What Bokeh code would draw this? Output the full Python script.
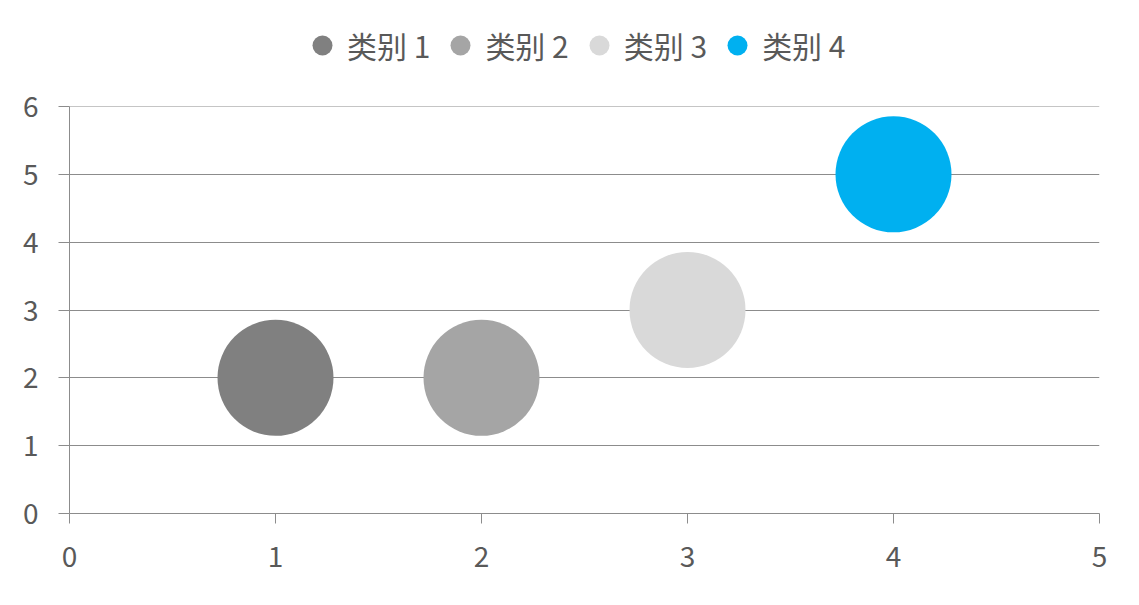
from bokeh.plotting import figure
from bokeh.layouts import column
from bokeh.models import Range1d, FixedTicker, Legend, LegendItem, ColumnDataSource, Span
from bokeh.embed import file_html
from bokeh.resources import INLINE

categories = ["类别 1", "类别 2", "类别 3", "类别 4"]
x_values = [1, 2, 3, 4]
y_values = [2, 2, 3, 5]
bubble_sizes = [10, 10, 10, 10]
colors = ["#808080", "#A5A5A5", "#D9D9D9", "#00B0F0"]
x_ticks = [0, 1, 2, 3, 4, 5]
y_ticks = [0, 1, 2, 3, 4, 5, 6]

FONT = "Noto Sans CJK SC"
TXT = "#595959"
LINE = "#8C8C8C"

# main chart
p = figure(width=1131, height=525, output_backend="svg", toolbar_location=None,
           x_range=Range1d(0, 5), y_range=Range1d(0, 6),
           min_border_left=69, min_border_right=32, min_border_top=30, min_border_bottom=88)
p.outline_line_color = None
p.background_fill_color = "white"
p.border_fill_color = "white"

for i, c in enumerate(categories):
    src = ColumnDataSource(dict(x=[x_values[i]], y=[y_values[i]], r=[bubble_sizes[i] * 5.8]))
    p.circle("x", "y", radius="r", radius_units="screen", source=src,
             fill_color=colors[i], line_color=None)

p.xaxis.ticker = FixedTicker(ticks=x_ticks)
p.yaxis.ticker = FixedTicker(ticks=y_ticks)
for ax in (p.xaxis, p.yaxis):
    ax.axis_line_color = LINE
    ax.major_tick_line_color = LINE
    ax.minor_tick_line_color = None
    ax.major_tick_in = 0
    ax.major_label_text_font = FONT
    ax.major_label_text_font_size = "28px"
    ax.major_label_text_color = TXT
p.xaxis.major_tick_out = 10
p.yaxis.major_tick_out = 11
p.xaxis.major_label_standoff = 22
p.yaxis.major_label_standoff = 20

p.xgrid.grid_line_color = None
p.ygrid.grid_line_color = LINE
p.ygrid.ticker = FixedTicker(ticks=y_ticks)
p.add_layout(Span(location=y_ticks[-1], dimension="width", line_color=LINE, line_width=1))

# legend strip (its renderers lie outside this strip's ranges, only the legend shows)
lg = figure(width=1131, height=76, output_backend="svg", toolbar_location=None,
            x_range=Range1d(0, 1), y_range=Range1d(0, 1),
            x_axis_location=None, y_axis_location=None, min_border=0)
lg.outline_line_color = None
lg.xgrid.grid_line_color = None
lg.ygrid.grid_line_color = None
items = []
for i, c in enumerate(categories):
    r = lg.scatter(x=[x_values[i]], y=[y_values[i]], size=20,
                   fill_color=colors[i], line_color=None)
    items.append(LegendItem(label=c, renderers=[r]))
legend = Legend(items=items, orientation="horizontal", location=(228, 6),
                label_text_font=FONT, label_text_font_size="30px", label_text_color=TXT,
                glyph_width=50, glyph_height=50, label_standoff=0, spacing=5,
                border_line_color=None, background_fill_alpha=0, padding=0, margin=0)
lg.add_layout(legend, "center")

layout = column(lg, p, spacing=0)
open("out.html", "w").write(file_html(layout, INLINE))
